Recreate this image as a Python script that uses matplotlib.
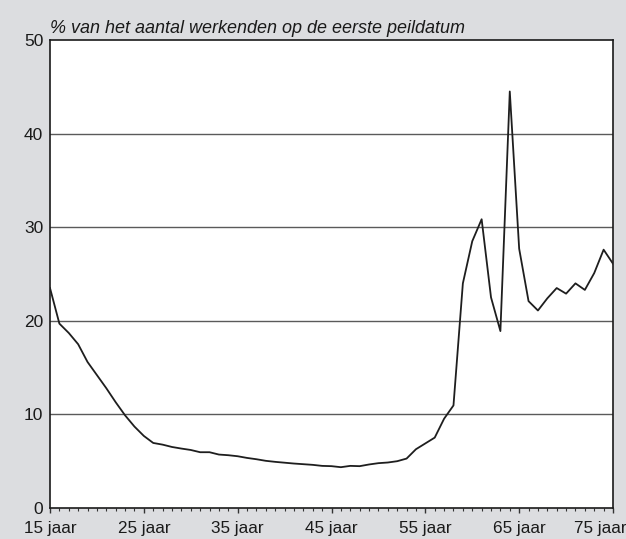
import matplotlib
matplotlib.use("Agg")
import matplotlib.pyplot as plt
import matplotlib.transforms as mtransforms
from matplotlib.ticker import MultipleLocator, FixedLocator

plt.rcParams['font.family'] = ['Liberation Sans', 'DejaVu Sans']

ages = list(range(15, 76))
values = [23.5, 19.7, 18.7, 17.5, 15.6, 14.2, 12.8, 11.3, 9.9, 8.7,
          7.7, 6.95, 6.77, 6.52, 6.35, 6.2, 5.96, 5.96, 5.71, 5.64,
          5.53, 5.35, 5.21, 5.04, 4.93, 4.84, 4.75, 4.68, 4.61, 4.5,
          4.47, 4.36, 4.5, 4.47, 4.65, 4.79, 4.86, 5.0, 5.28, 6.28,
          6.9, 7.52, 9.54, 10.96, 24.0, 28.5, 30.85, 22.5, 18.9, 44.5,
          27.7, 22.1, 21.1, 22.4, 23.5, 22.9, 24.0, 23.3, 25.1, 27.6,
          26.1]

x_ticks = [15, 25, 35, 45, 55, 65, 75]
x_labels = ["15 jaar", "25 jaar", "35 jaar", "45 jaar", "55 jaar", "65 jaar", "75 jaar"]
y_ticks = [0, 10, 20, 30, 40, 50]
title = "% van het aantal werkenden op de eerste peildatum"

bg = '#dcdde0'
fig = plt.figure(figsize=(6.26, 5.39), dpi=100, facecolor=bg)
ax = fig.add_axes([50/626, 1 - 508/539, 563/626, 468/539])
ax.set_facecolor('white')

for g in y_ticks[1:-1]:
    ax.axhline(g, color='#5a5a5a', lw=1.0, zorder=1)

ax.plot(ages, values, color='#1e1e1e', lw=1.3, zorder=3)

ax.set_xlim(15, 75)
ax.set_ylim(0, 50)
ax.xaxis.set_major_locator(FixedLocator(x_ticks))
ax.set_xticklabels(x_labels)
ax.xaxis.set_minor_locator(MultipleLocator(1))
ax.set_yticks(y_ticks)

ax.tick_params(axis='x', which='major', direction='out', length=3.6, width=1.0,
               color='#333333', labelsize=12.3, pad=6, labelcolor='#1a1a1a')
ax.tick_params(axis='x', which='minor', direction='out', length=1.8, width=0.8,
               color='#333333')
ax.tick_params(axis='y', which='major', length=0, labelsize=12.5, pad=4.8,
               labelcolor='#1a1a1a')

# shift last x label slightly left so it stays inside the figure
last = ax.get_xticklabels()[-1]
last.set_transform(last.get_transform() +
                   mtransforms.ScaledTranslation(-13/100, 0, fig.dpi_scale_trans))

for s in ax.spines.values():
    s.set_color('#1a1a1a')
    s.set_linewidth(1.2)

fig.text(50/626, 1 - 33/539, title, fontsize=13, style='italic',
         ha='left', va='baseline', color='#1a1a1a')

fig.savefig('out.png', dpi=100, facecolor=bg)
